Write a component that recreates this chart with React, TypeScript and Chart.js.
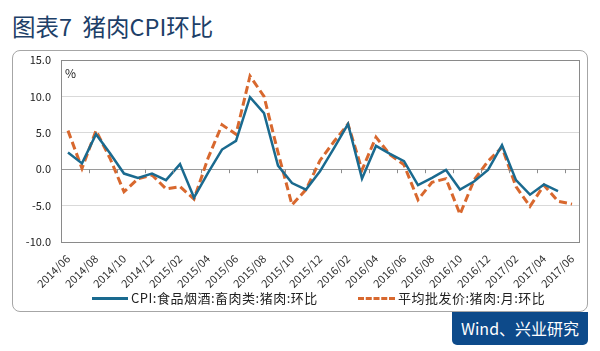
import React, { useEffect, useRef } from "react";
import { Chart, registerables } from "chart.js";

Chart.register(...registerables);

const months: string[] = [
  "2014/06","2014/07","2014/08","2014/09","2014/10","2014/11","2014/12",
  "2015/01","2015/02","2015/03","2015/04","2015/05","2015/06","2015/07","2015/08","2015/09","2015/10","2015/11","2015/12",
  "2016/01","2016/02","2016/03","2016/04","2016/05","2016/06","2016/07","2016/08","2016/09","2016/10","2016/11","2016/12",
  "2017/01","2017/02","2017/03","2017/04","2017/05","2017/06",
];

const cpiPork: (number | null)[] = [
  2.3, 0.8, 4.8, 2.2, -0.6, -1.2, -0.6,
  -1.5, 0.7, -3.9, -0.5, 2.7, 3.9, 9.9, 7.7, 0.5, -1.9, -2.8, -0.3,
  2.9, 6.2, -1.3, 3.2, 2.1, 1.1, -2.2, -1.2, -0.1, -2.8, -1.7, -0.1,
  3.3, -1.5, -3.5, -2.1, -3.0, null,
];

const wholesalePork: number[] = [
  5.3, 0.1, 5.3, 1.5, -3.1, -1.3, -0.8,
  -2.7, -2.4, -4.1, 1.5, 6.1, 4.8, 12.8, 10.0, 2.3, -4.9, -2.8, 1.2,
  3.8, 6.2, -0.1, 4.4, 2.0, 0.6, -4.2, -1.8, -1.3, -6.2, -1.5, 1.1,
  3.0, -2.4, -5.1, -2.2, -4.4, -4.8,
];

const seriesNames = ["CPI:食品烟酒:畜肉类:猪肉:环比", "平均批发价:猪肉:月:环比"];
const BLUE = "#1a6a8f";
const ORANGE = "#d8682e";
const FONT = "'Noto Sans CJK SC', 'Noto Sans', sans-serif";

export default function App() {
  const ref = useRef<HTMLCanvasElement | null>(null);

  useEffect(() => {
    if (!ref.current) return;
    const framePlugin = {
      id: "frame",
      afterDraw(chart: any) {
        const { ctx, chartArea } = chart;
        const x = chart.scales.x;
        const y = chart.scales.y;
        const y0 = y.getPixelForValue(0);
        const half = (x.getPixelForValue(1) - x.getPixelForValue(0)) / 2;
        ctx.save();
        ctx.strokeStyle = "#8c8c8c";
        ctx.lineWidth = 1;
        for (let i = 0; i <= months.length; i += 2) {
          const px = Math.round(x.getPixelForValue(i) - half) + 0.5;
          ctx.beginPath();
          ctx.moveTo(px, y0);
          ctx.lineTo(px, y0 + 4);
          ctx.stroke();
        }
        ctx.strokeStyle = "#8a8a8a";
        ctx.strokeRect(
          Math.round(chartArea.left) + 0.5,
          Math.round(chartArea.top) + 0.5,
          Math.round(chartArea.right - chartArea.left),
          Math.round(chartArea.bottom - chartArea.top)
        );
        ctx.restore();
      },
    };

    const chart = new Chart(ref.current, {
      type: "line",
      data: {
        labels: months,
        datasets: [
          {
            label: seriesNames[0],
            data: cpiPork,
            borderColor: BLUE,
            backgroundColor: BLUE,
            borderWidth: 2.5,
            pointRadius: 0,
            tension: 0,
            spanGaps: false,
          },
          {
            label: seriesNames[1],
            data: wholesalePork,
            borderColor: ORANGE,
            backgroundColor: ORANGE,
            borderWidth: 3,
            borderDash: [8, 4],
            pointRadius: 0,
            tension: 0,
          },
        ],
      },
      options: {
        responsive: false,
        animation: false,
        devicePixelRatio: 1,
        layout: { padding: { left: 0, top: 60, right: 21, bottom: 0 } },
        plugins: { legend: { display: false }, tooltip: { enabled: false } },
        scales: {
          x: {
            type: "category",
            offset: true,
            grid: { display: false, offset: true },
            border: { display: false },
            afterFit: (s: any) => { s.height = 109; },
            ticks: {
              autoSkip: false,
              maxRotation: 45,
              minRotation: 45,
              padding: 2,
              color: "#333",
              font: { family: FONT, size: 11 },
              callback: (_v: any, i: number) => (i % 2 === 0 ? months[i] : ""),
            },
          },
          y: {
            min: -10,
            max: 15,
            afterFit: (s: any) => { s.width = 61; },
            border: { display: false },
            grid: {
              drawTicks: false,
              color: (c: any) => (c.tick && c.tick.value === 0 ? "#9a9a9a" : "#d9d9d9"),
              lineWidth: 1,
            },
            ticks: {
              stepSize: 5,
              padding: 10,
              color: "#222",
              font: { family: FONT, size: 11 },
              callback: (v: any) => Number(v).toFixed(1),
            },
          },
        },
      },
      plugins: [framePlugin],
    });
    return () => chart.destroy();
  }, []);

  return (
    <div style={{ position: "fixed", left: 0, top: 0, width: 600, height: 351, background: "#fff", overflow: "hidden", fontFamily: FONT }}>
      <div style={{ position: "absolute", left: 12, top: 10, fontSize: 23.5, color: "#1d4068", whiteSpace: "pre", lineHeight: "32px" }}>
        {"图表7  猪肉CPI环比"}
      </div>
      <div style={{ position: "absolute", left: 12, top: 50, width: 574, height: 260, border: "1px solid #a6a6a6", borderRadius: 8 }} />
      <canvas ref={ref} width={600} height={351} style={{ position: "absolute", left: 0, top: 0, width: 600, height: 351 }} />
      <div style={{ position: "absolute", left: 65, top: 64, fontSize: 12, color: "#222" }}>%</div>
      <div style={{ position: "absolute", left: 92, top: 297, width: 36, height: 3, background: BLUE }} />
      <div style={{ position: "absolute", left: 131, top: 289, fontSize: 13, letterSpacing: 0.5, color: "#222", lineHeight: "18px", whiteSpace: "nowrap" }}>{seriesNames[0]}</div>
      <div style={{ position: "absolute", left: 358, top: 297, width: 37, height: 0, borderTop: `3px dashed ${ORANGE}` }} />
      <div style={{ position: "absolute", left: 398, top: 289, fontSize: 13, letterSpacing: 0.5, color: "#222", lineHeight: "18px", whiteSpace: "nowrap" }}>{seriesNames[1]}</div>
      <div style={{ position: "absolute", left: 452, top: 312, width: 136, height: 33, background: "#0d4a8a", borderRadius: "0 0 5px 5px", color: "#fff", fontSize: 16, lineHeight: "33px", textAlign: "center", whiteSpace: "nowrap" }}>
        Wind、兴业研究
      </div>
    </div>
  );
}
